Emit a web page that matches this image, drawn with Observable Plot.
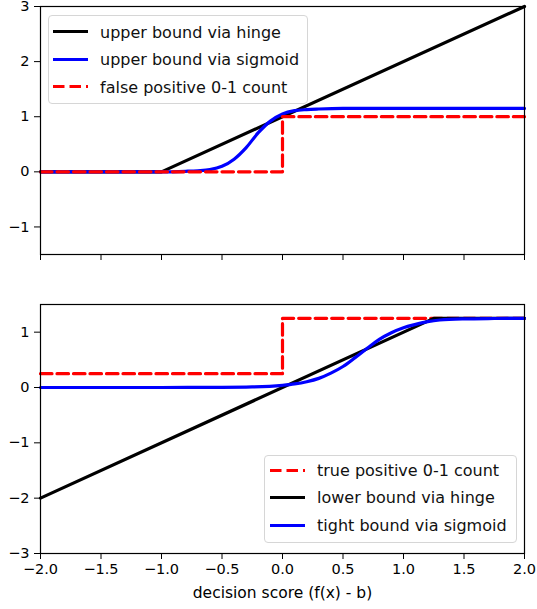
<!DOCTYPE html>
<html>
<head>
<meta charset="utf-8">
<script src="https://cdn.jsdelivr.net/npm/d3@7"></script>
<script src="https://cdn.jsdelivr.net/npm/@observablehq/plot@0.6"></script>
<style>
  body { margin: 0; background: #fff; }
  #wrap { position: relative; width: 537px; height: 609px; font-family: "DejaVu Sans", sans-serif; }
  .panel { position: absolute; left: 0; }
  .legend { position: absolute; border: 1px solid #d6d6d6; border-radius: 4px; background: rgba(255,255,255,0.85); box-sizing: border-box; }
  .item { position: absolute; display: flex; align-items: center; font-size: 16px; color: #111; white-space: nowrap; transform: translateY(-50%); }
</style>
</head>
<body>
<div id="wrap">
  <div id="top" class="panel" style="top:0"></div>
  <div id="bot" class="panel" style="top:280px"></div>
</div>
<script>
// ---- data ----
const xTicks = [-2, -1.5, -1, -0.5, 0, 0.5, 1, 1.5, 2];
const topYTicks = [-1, 0, 1, 2, 3];
const botYTicks = [-3, -2, -1, 0, 1];

// top panel
const hingeUpperX = [-2, -1, 2];
const hingeUpperY = [0, 0, 3];
const sigUpperX = [-2, -1, -0.8, -0.7, -0.6, -0.5, -0.4, -0.3, -0.2, -0.1, 0, 0.1, 0.2, 0.3, 0.5, 1, 2];
const sigUpperY = [0, 0, 0.01, 0.02, 0.04, 0.1, 0.23, 0.44, 0.71, 0.92, 1.05, 1.11, 1.13, 1.14, 1.15, 1.15, 1.15];
const fpX = [-2, 0, 0, 2];
const fpY = [0, 0, 1, 1];

// bottom panel
const tpX = [-2, 0, 0, 2];
const tpY = [0.25, 0.25, 1.25, 1.25];
const hingeLowerX = [-2, 1.25, 2];
const hingeLowerY = [-2, 1.25, 1.25];
const sigTightX = [-2, -1, -0.5, -0.25, 0, 0.1, 0.2, 0.3, 0.4, 0.5, 0.6, 0.7, 0.8, 0.9, 1.0, 1.1, 1.2, 1.3, 1.5, 1.75, 2];
const sigTightY = [0, 0, 0.003, 0.01, 0.04, 0.065, 0.105, 0.165, 0.26, 0.38, 0.54, 0.71, 0.87, 0.99, 1.08, 1.14, 1.19, 1.22, 1.24, 1.247, 1.25];

const topLabels = ["upper bound via hinge", "upper bound via sigmoid", "false positive 0-1 count"];
const botLabels = ["true positive 0-1 count", "lower bound via hinge", "tight bound via sigmoid"];
const xLabel = "decision score (f(x) - b)";

// ---- helpers ----
const pts = (xs, ys) => xs.map((x, i) => ({x, y: ys[i]}));
const BLACK = "#000000", BLUE = "#0000ff", RED = "#ff0000";
const DASH = "11.5,5";
const LW = 3.2;
const style = {fontFamily: "DejaVu Sans", fontSize: "14.5px", color: "black", background: "transparent", overflow: "visible"};

const topPlot = Plot.plot({
  width: 537, height: 280,
  marginLeft: 40, marginRight: 13, marginTop: 6, marginBottom: 26,
  style,
  x: {domain: [-2, 2]},
  y: {domain: [-1.5, 3]},
  marks: [
    Plot.line(pts(hingeUpperX, hingeUpperY), {x: "x", y: "y", stroke: BLACK, strokeWidth: LW}),
    Plot.line(pts(sigUpperX, sigUpperY), {x: "x", y: "y", stroke: BLUE, strokeWidth: LW, curve: "monotone-x"}),
    Plot.line(pts(fpX, fpY), {x: "x", y: "y", stroke: RED, strokeWidth: LW, strokeDasharray: DASH}),
    Plot.frame({stroke: "black", strokeWidth: 1.2}),
    Plot.axisY({ticks: topYTicks, tickSize: 6, tickPadding: 5, label: null, tickFormat: d3.format("d")}),
    Plot.axisX({ticks: xTicks, tickSize: 6, tickFormat: () => "", label: null})
  ]
});
document.getElementById("top").appendChild(topPlot);

const botPlot = Plot.plot({
  width: 537, height: 329,
  marginLeft: 40, marginRight: 13, marginTop: 24, marginBottom: 56,
  style,
  x: {domain: [-2, 2]},
  y: {domain: [-3, 1.5]},
  marks: [
    Plot.line(pts(tpX, tpY), {x: "x", y: "y", stroke: RED, strokeWidth: LW, strokeDasharray: DASH}),
    Plot.line(pts(hingeLowerX, hingeLowerY), {x: "x", y: "y", stroke: BLACK, strokeWidth: LW}),
    Plot.line(pts(sigTightX, sigTightY), {x: "x", y: "y", stroke: BLUE, strokeWidth: LW, curve: "monotone-x"}),
    Plot.frame({stroke: "black", strokeWidth: 1.2}),
    Plot.axisY({ticks: botYTicks, tickSize: 6, tickPadding: 5, label: null, tickFormat: d3.format("d")}),
    Plot.axisX({ticks: xTicks, tickSize: 6, tickPadding: 4, tickFormat: d3.format(".1f"), label: null}),
    Plot.text([xLabel], {frameAnchor: "bottom", dy: 40, fontSize: 15.5, fill: "black", lineAnchor: "middle"})
  ]
});
document.getElementById("bot").appendChild(botPlot);

// ---- legends (HTML overlays) ----
function legend(box, rows, labels, colors, dashes, swX, txtX) {
  const wrap = document.getElementById("wrap");
  const lg = document.createElement("div");
  lg.className = "legend";
  Object.assign(lg.style, {left: box[0] + "px", top: box[1] + "px", width: (box[2] - box[0]) + "px", height: (box[3] - box[1]) + "px"});
  wrap.appendChild(lg);
  labels.forEach((lab, i) => {
    const it = document.createElement("div");
    it.className = "item";
    it.style.left = swX + "px";
    it.style.top = rows[i] + "px";
    const sw = txtX - swX;
    it.innerHTML = `<svg width="${sw}" height="8" style="display:block"><line x1="0" x2="35" y1="4" y2="4" stroke="${colors[i]}" stroke-width="3.2" ${dashes[i] ? `stroke-dasharray="${DASH}"` : ""}/></svg><span>${lab}</span>`;
    wrap.appendChild(it);
  });
}
legend([48, 15, 308, 104], [31.7, 59, 86.7], topLabels, [BLACK, BLUE, RED], [false, false, true], 53, 100);
legend([264, 455, 517, 543], [470, 497.3, 525], botLabels, [RED, BLACK, BLUE], [true, false, false], 270, 317);
</script>
</body>
</html>
